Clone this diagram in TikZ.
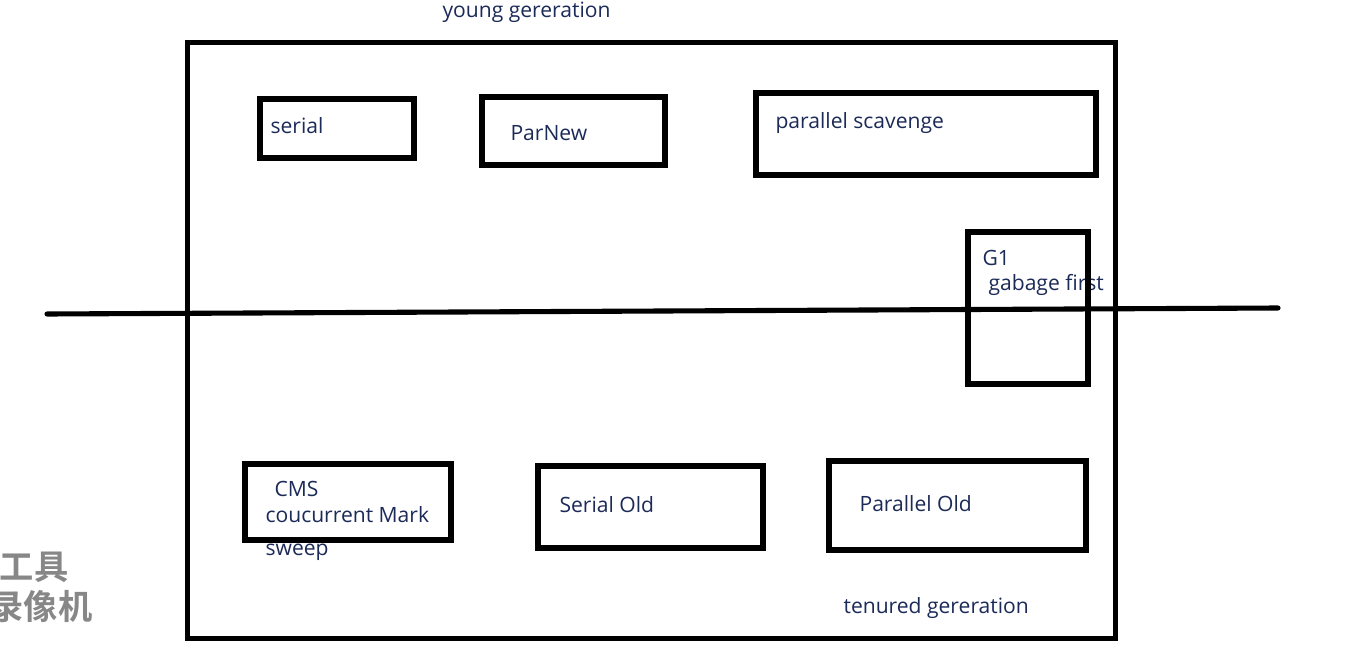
\documentclass[tikz,border=0pt]{standalone}
\usepackage{fontspec}
\setmainfont{Open Sans}
\newfontfamily\cjkmark{Noto Sans CJK SC}[BoldFont={Noto Sans CJK SC Bold}]
\usepackage{tikz}
\definecolor{label_blue}{RGB}{28,42,88}
\definecolor{mark_gray}{RGB}{135,135,135}

\begin{document}
\begin{tikzpicture}[x=0.02cm,y=-0.02cm,line width=2.9pt]
    \tikzstyle{gcbox}=[draw=black, rectangle, inner sep=0pt, outer sep=0pt, fill=none]
    \tikzstyle{gclabel}=[anchor=base west, inner sep=0pt, text=label_blue, font=\fontsize{12}{14}\selectfont]
    \tikzstyle{wmark}=[anchor=east, inner sep=0pt, text=mark_gray, font=\cjkmark\bfseries\fontsize{19.5}{22}\selectfont]

    \useasboundingbox (0,0) rectangle (1359,666);

    % screen recorder watermark
    \node[wmark] (mark1) at (71,567) {录制工具};
    \node[wmark] (mark2) at (95,607) {录像机};

    % labels
    \node[gclabel] (young)   at (440,17)  {young gereration};
    \node[gclabel] (tenured) at (841,613) {tenured gereration};
    \node[gclabel] (t1) at (268,133) {serial};
    \node[gclabel] (t2) at (508,140) {ParNew};
    \node[gclabel] (t3) at (773,128) {parallel scavenge};
    \node[gclabel] (t4) at (980,265) {G1};
    \node[gclabel] (t5) at (986,290) {gabage first};
    \node[gclabel] (t6) at (272,496) {CMS};
    \node[gclabel] (t7) at (263,522) {coucurrent Mark};
    \node[gclabel] (t8) at (263,555) {sweep};
    \node[gclabel] (t9) at (557,512) {Serial Old};
    \node[gclabel] (t10) at (857,511) {Parallel Old};

    % boxes
    \node[gcbox, minimum width=18.56cm, minimum height=11.92cm] (heap) at (651.5,340.5) {};
    \node[gcbox, minimum width=3.08cm, minimum height=1.18cm] (serial) at (337,128.5) {};
    \node[gcbox, minimum width=3.66cm, minimum height=1.36cm] (parnew) at (573.5,131) {};
    \node[gcbox, minimum width=6.80cm, minimum height=1.64cm] (scavenge) at (926,134) {};
    \node[gcbox, minimum width=2.40cm, minimum height=3.04cm] (g1) at (1028,308) {};
    \node[gcbox, minimum width=4.12cm, minimum height=1.52cm] (cms) at (348,502) {};
    \node[gcbox, minimum width=4.50cm, minimum height=1.64cm] (serialold) at (650.5,507) {};
    \node[gcbox, minimum width=5.14cm, minimum height=1.78cm] (parallelold) at (957.5,505.5) {};

    % young / tenured divider
    \coordinate (divl) at (47,314);
    \coordinate (divr) at (1278,308);
    \draw[line cap=round] (divl) -- (divr);
  \end{tikzpicture}
\end{document}
